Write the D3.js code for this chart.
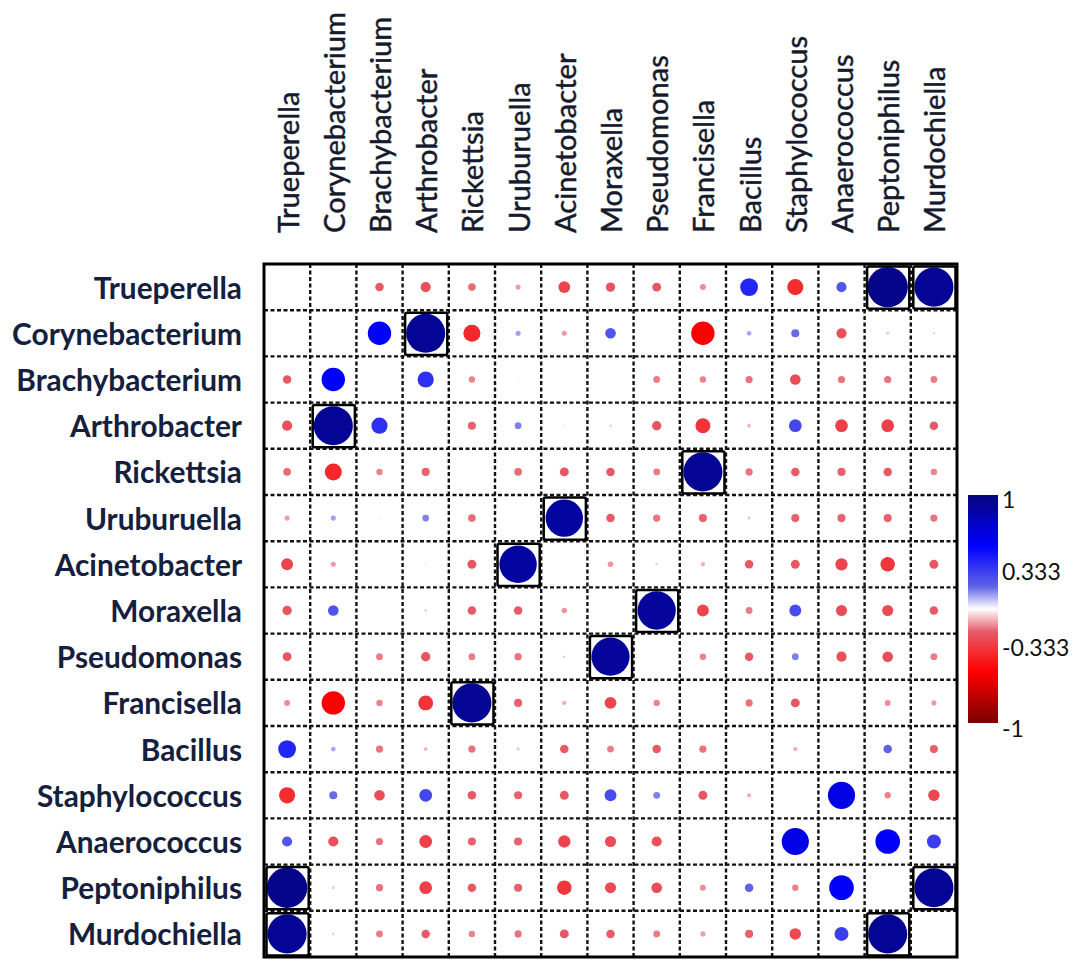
<!DOCTYPE html>
<html><head><meta charset="utf-8">
<script src="https://cdn.jsdelivr.net/npm/d3@7"></script>
<style>body{margin:0;background:#fff}</style>
</head><body><svg id="chart" width="1084" height="968"></svg>
<script>
// ---- data ----
const taxa = ["Trueperella","Corynebacterium","Brachybacterium","Arthrobacter","Rickettsia","Uruburuella","Acinetobacter","Moraxella","Pseudomonas","Francisella","Bacillus","Staphylococcus","Anaerococcus","Peptoniphilus","Murdochiella"];
const rowTrueperella     = [null, 0, -0.20, -0.24, -0.18, -0.12, -0.28, -0.22, -0.21, -0.14, 0.42, -0.38, 0.24, 0.95, 0.92];
const rowCorynebacterium = [0, null, 0.55, 0.92, -0.40, 0.12, -0.12, 0.25, 0, -0.55, 0.11, 0.19, -0.24, -0.07, -0.06];
const rowBrachybacterium = [-0.20, 0.55, null, 0.38, -0.15, 0.03, 0, 0, -0.16, -0.15, -0.17, -0.25, -0.17, -0.17, -0.16];
const rowArthrobacter    = [-0.24, 0.92, 0.38, null, -0.19, 0.16, -0.04, 0.06, -0.22, -0.35, -0.09, 0.30, -0.30, -0.30, -0.20];
const rowRickettsia      = [-0.18, -0.40, -0.15, -0.19, null, -0.18, -0.21, -0.20, -0.16, 0.92, -0.17, -0.20, -0.19, -0.20, -0.15];
const rowUruburuella     = [-0.12, 0.12, 0.03, 0.16, -0.18, null, 0.88, -0.20, -0.17, -0.19, 0.07, -0.19, -0.19, -0.19, -0.17];
const rowAcinetobacter   = [-0.28, -0.12, 0, -0.04, -0.21, 0.88, null, -0.13, 0.06, -0.10, -0.20, -0.21, -0.29, -0.34, -0.21];
const rowMoraxella       = [-0.22, 0.25, 0, 0.06, -0.20, -0.20, -0.13, null, 0.90, -0.28, -0.16, 0.28, -0.26, -0.26, -0.20];
const rowPseudomonas     = [-0.21, 0, -0.16, -0.22, -0.16, -0.17, 0.06, 0.90, null, -0.15, -0.20, 0.16, -0.24, -0.25, -0.16];
const rowFrancisella     = [-0.14, -0.55, -0.15, -0.35, 0.92, -0.19, -0.10, -0.28, -0.15, null, -0.17, -0.21, 0, -0.14, -0.12];
const rowBacillus        = [0.42, 0.11, -0.17, -0.09, -0.17, 0.07, -0.20, -0.16, -0.20, -0.17, null, -0.10, 0, 0.20, -0.19];
const rowStaphylococcus  = [-0.38, 0.19, -0.25, 0.30, -0.20, -0.19, -0.21, 0.28, 0.16, -0.21, -0.10, null, 0.64, -0.15, -0.27];
const rowAnaerococcus    = [0.24, -0.24, -0.17, -0.30, -0.19, -0.19, -0.29, -0.26, -0.24, 0, 0, 0.64, null, 0.58, 0.33];
const rowPeptoniphilus   = [0.95, -0.07, -0.17, -0.30, -0.20, -0.19, -0.34, -0.26, -0.25, -0.14, 0.20, -0.15, 0.58, null, 0.92];
const rowMurdochiella    = [0.92, -0.06, -0.16, -0.20, -0.15, -0.17, -0.21, -0.20, -0.16, -0.12, -0.19, -0.27, 0.33, 0.92, null];
const legendTicks = [1, 0.333, -0.333, -1];
const legendTickLabels = ["1", "0.333", "-0.333", "-1"];
const boxThreshold = 0.85;

const matrix = [rowTrueperella,rowCorynebacterium,rowBrachybacterium,rowArthrobacter,rowRickettsia,rowUruburuella,rowAcinetobacter,rowMoraxella,rowPseudomonas,rowFrancisella,rowBacillus,rowStaphylococcus,rowAnaerococcus,rowPeptoniphilus,rowMurdochiella];

// ---- layout ----
const svg = d3.select("#chart");
const gx0 = 264, gx1 = 957, gy0 = 264, gy1 = 957;
const x = d3.scaleBand().domain(taxa).range([gx0, gx1]);
const y = d3.scaleBand().domain(taxa).range([gy0, gy1]);
const cell = x.bandwidth();
const rScale = d3.scaleLinear().domain([0, 1]).range([0, cell * 0.46]);
const color = d3.scaleLinear()
  .domain([-1, -0.55, -0.2, 0, 0.2, 0.55, 1])
  .range(["#7a0000", "#ff0000", "#e65a66", "#ffffff", "#5e62e6", "#0000ff", "#06067e"]);

const cells = [];
matrix.forEach((row, i) => row.forEach((v, j) => cells.push({r: taxa[i], c: taxa[j], v})));

// dashed grid
const grid = svg.append("g");
d3.range(1, taxa.length).forEach(k => {
  const p = gx0 + k * cell;
  grid.append("line").attr("x1", p).attr("x2", p).attr("y1", gy0).attr("y2", gy1);
  const q = gy0 + k * cell;
  grid.append("line").attr("x1", gx0).attr("x2", gx1).attr("y1", q).attr("y2", q);
});
grid.selectAll("line").attr("stroke", "#111").attr("stroke-width", 2.4).attr("stroke-dasharray", "4,2.5");

// circles
svg.append("g").selectAll("circle")
  .data(cells.filter(d => d.v !== null && d.v !== 0))
  .join("circle")
  .attr("cx", d => x(d.c) + cell / 2)
  .attr("cy", d => y(d.r) + cell / 2)
  .attr("r", d => rScale(Math.abs(d.v)))
  .attr("fill", d => color(d.v));

// boxes
svg.append("g").selectAll("rect")
  .data(cells.filter(d => d.v !== null && Math.abs(d.v) >= boxThreshold))
  .join("rect")
  .attr("x", d => x(d.c) + 2.5).attr("y", d => y(d.r) + 2.5)
  .attr("width", cell - 4).attr("height", cell - 4)
  .attr("rx", 2)
  .attr("fill", "none").attr("stroke", "#000").attr("stroke-width", 2.5);

// outer border
svg.append("rect").attr("x", gx0).attr("y", gy0).attr("width", gx1 - gx0).attr("height", gy1 - gy0)
  .attr("fill", "none").attr("stroke", "#000").attr("stroke-width", 3);

function fit(sel, target, ref) {
  const node = sel.filter(d => d === ref).node();
  const w = node.getComputedTextLength();
  sel.attr("font-size", 24 * target / w);
}

// row labels
const rowLab = svg.append("g").selectAll("text").data(taxa).join("text")
  .attr("x", 242).attr("y", d => y(d) + cell / 2)
  .attr("text-anchor", "end").attr("dominant-baseline", "central")
  .attr("font-family", "Lato, 'Open Sans', sans-serif").attr("font-weight", "bold")
  .attr("font-size", 24).attr("fill", "#14203d").text(d => d);
fit(rowLab, 230, "Corynebacterium");

// column labels
const colLab = svg.append("g").selectAll("text").data(taxa).join("text")
  .attr("transform", d => `translate(${x(d) + cell / 2},233) rotate(-90)`)
  .attr("text-anchor", "start").attr("dominant-baseline", "central")
  .attr("font-family", "Lato, 'Open Sans', sans-serif")
  .attr("font-size", 24).attr("fill", "#151a2c")
  .attr("stroke", "#151a2c").attr("stroke-width", 0.45).text(d => d);
fit(colLab, 221, "Corynebacterium");

// colour bar
const lg = svg.append("defs").append("linearGradient").attr("id", "cbar")
  .attr("x1", 0).attr("x2", 0).attr("y1", 0).attr("y2", 1);
d3.range(0, 1.0001, 0.02).forEach(t => {
  lg.append("stop").attr("offset", t).attr("stop-color", color(1 - 2 * t));
});
const ly = d3.scaleLinear().domain([1, -1]).range([495, 723]);
svg.append("rect").attr("x", 968).attr("y", ly(1)).attr("width", 30).attr("height", ly(-1) - ly(1))
  .attr("fill", "url(#cbar)");
svg.append("g").selectAll("text").data(legendTicks).join("text")
  .attr("x", 1002).attr("y", d => ly(d) + (d === 1 ? 4 : 0) + (d === -1 ? 5 : 0))
  .attr("dominant-baseline", "central")
  .attr("font-family", "Lato, 'Open Sans', sans-serif").attr("font-size", 23).attr("fill", "#111")
  .text((d, i) => legendTickLabels[i]);
</script>
</body></html>
